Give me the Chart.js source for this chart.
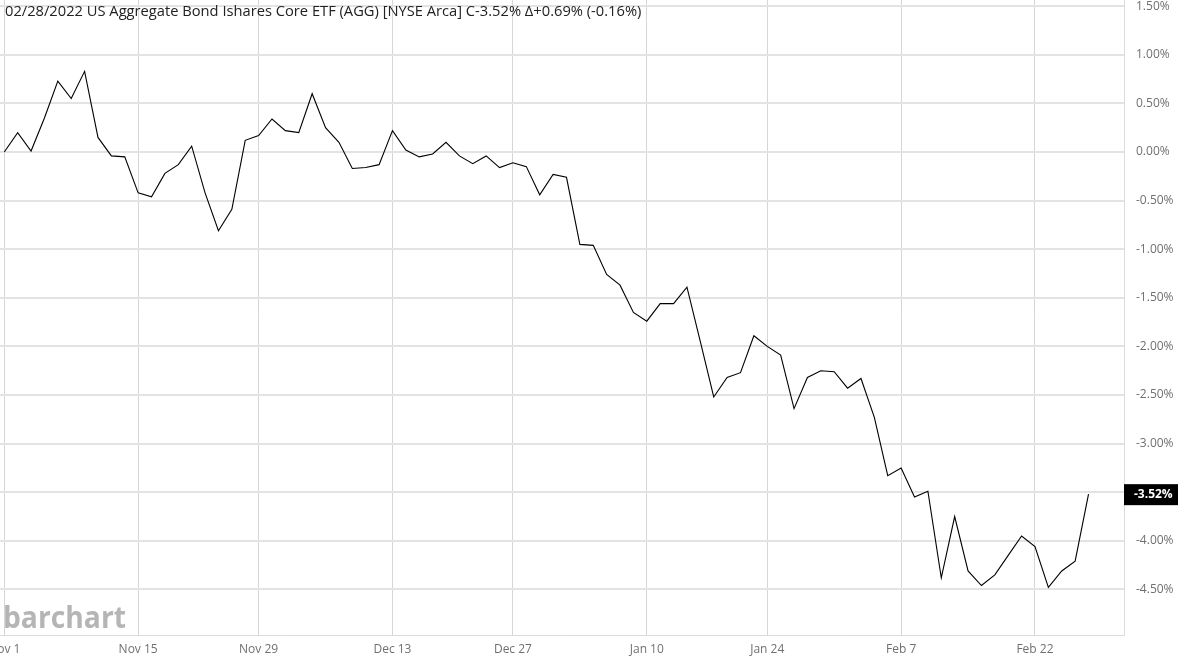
<!DOCTYPE html>
<html>
<head>
<meta charset="utf-8">
<script src="https://cdn.jsdelivr.net/npm/chart.js@4.4.1/dist/chart.umd.min.js"></script>
<style>
  html, body { margin: 0; padding: 0; background: #fff; }
  #wrap { width: 1188px; height: 661px; position: relative; }
</style>
</head>
<body>
<div id="wrap"><canvas id="aggChart"></canvas></div>
<script>
// =======================================
// DATA (trading days, % change since Nov 1)
// =======================================
const dates = [
  "Nov 1", "Nov 2", "Nov 3", "Nov 4", "Nov 5", "Nov 8", "Nov 9", "Nov 10", "Nov 11", "Nov 12",
  "Nov 15", "Nov 16", "Nov 17", "Nov 18", "Nov 19", "Nov 22", "Nov 23", "Nov 24", "Nov 26", "Nov 29",
  "Nov 30", "Dec 1", "Dec 2", "Dec 3", "Dec 6", "Dec 7", "Dec 8", "Dec 9", "Dec 10", "Dec 13",
  "Dec 14", "Dec 15", "Dec 16", "Dec 17", "Dec 20", "Dec 21", "Dec 22", "Dec 23", "Dec 27", "Dec 28",
  "Dec 29", "Dec 30", "Dec 31", "Jan 3", "Jan 4", "Jan 5", "Jan 6", "Jan 7", "Jan 10", "Jan 11",
  "Jan 12", "Jan 13", "Jan 14", "Jan 18", "Jan 19", "Jan 20", "Jan 21", "Jan 24", "Jan 25", "Jan 26",
  "Jan 27", "Jan 28", "Jan 31", "Feb 1", "Feb 2", "Feb 3", "Feb 4", "Feb 7", "Feb 8", "Feb 9",
  "Feb 10", "Feb 11", "Feb 14", "Feb 15", "Feb 16", "Feb 17", "Feb 18", "Feb 22", "Feb 23", "Feb 24",
  "Feb 25", "Feb 28"
];

const pctChange = [
  0.00, 0.20, 0.01, 0.35, 0.73, 0.55, 0.83, 0.15, -0.04, -0.05,
  -0.42, -0.46, -0.22, -0.13, 0.06, -0.42, -0.81, -0.59, 0.12, 0.17,
  0.34, 0.22, 0.20, 0.60, 0.25, 0.10, -0.17, -0.16, -0.13, 0.22,
  0.02, -0.05, -0.02, 0.10, -0.04, -0.12, -0.04, -0.16, -0.11, -0.15,
  -0.44, -0.23, -0.26, -0.95, -0.96, -1.26, -1.37, -1.65, -1.74, -1.56,
  -1.56, -1.39, -1.95, -2.52, -2.32, -2.27, -1.89, -2.00, -2.09, -2.64,
  -2.32, -2.25, -2.26, -2.43, -2.33, -2.73, -3.33, -3.25, -3.55, -3.49,
  -4.38, -3.75, -4.31, -4.46, -4.35, -4.15, -3.95, -4.06, -4.48, -4.31,
  -4.21, -3.52
];

const xTickLabels = ["Nov 1", "Nov 15", "Nov 29", "Dec 13", "Dec 27", "Jan 10", "Jan 24", "Feb 7", "Feb 22"];
const yTickValues = [1.5, 1.0, 0.5, 0.0, -0.5, -1.0, -1.5, -2.0, -2.5, -3.0, -3.5, -4.0, -4.5];

const titleText = "02/28/2022 US Aggregate Bond Ishares Core ETF (AGG) [NYSE Arca] C-3.52% \u0394+0.69% (-0.16%)";

// =======================================
// OVERLAY PLUGIN (title, watermark, last price tag)
// =======================================
const overlayPlugin = {
  id: "overlay",
  beforeDatasetsDraw(chart) {
    const ctx = chart.ctx;
    ctx.save();
    ctx.fillStyle = "#b5b5b5";
    ctx.font = "bold 31px 'Open Sans'";
    ctx.textBaseline = "alphabetic";
    ctx.textAlign = "left";
    ctx.fillText("barchart", 3, 628, 123);
    ctx.restore();
  },
  afterDraw(chart) {
    const ctx = chart.ctx;
    const yScale = chart.scales.y;
    const last = pctChange[pctChange.length - 1];
    const py = yScale.getPixelForValue(last);
    const left = chart.chartArea.right;

    ctx.save();
    // title
    ctx.fillStyle = "#222";
    ctx.font = "14.7px 'Open Sans'";
    ctx.textBaseline = "middle";
    ctx.textAlign = "left";
    ctx.fillText(titleText, 5, 12);

    // last value tag
    ctx.fillStyle = "#000";
    ctx.fillRect(left, py - 10, 54, 21);
    ctx.fillStyle = "#fff";
    ctx.font = "bold 12px 'Open Sans'";
    ctx.fillText(last.toFixed(2) + "%", left + 10, py + 0.5);
    ctx.restore();
  },
};

// =======================================
// CHART
// =======================================
function initChart() {
  const canvas = document.getElementById("aggChart");
  const xTickIdx = xTickLabels.map((l) => dates.indexOf(l));

  new Chart(canvas.getContext("2d"), {
    type: "line",
    data: {
      datasets: [
        {
          data: pctChange.map((v, i) => ({ x: i, y: v })),
          borderColor: "#000",
          borderWidth: 1.1,
          pointRadius: 0,
          tension: 0,
          fill: false,
        },
      ],
    },
    options: {
      responsive: true,
      maintainAspectRatio: false,
      animation: false,
      layout: { padding: 0, autoPadding: false },
      plugins: { legend: { display: false }, tooltip: { enabled: false } },
      scales: {
        x: {
          type: "linear",
          min: -0.32,
          max: 83.65,
          afterFit: (s) => {
            s.height = 26;
            s.paddingLeft = 0;
            s.paddingRight = 0;
          },
          afterBuildTicks: (s) => { s.ticks = xTickIdx.map((v) => ({ value: v })); },
          grid: { color: "#d6d6d6", lineWidth: 1, drawTicks: false },
          border: { color: "#dcdcdc", width: 1 },
          ticks: {
            color: "#707070",
            font: { family: "'Open Sans'", size: 12 },
            padding: 7,
            maxRotation: 0,
            autoSkip: false,
            callback: (v) => dates[v],
          },
        },
        y: {
          position: "right",
          min: -4.969,
          max: 1.564,
          afterFit: (s) => {
            s.width = 64;
            s.paddingTop = 0;
            s.paddingBottom = 0;
          },
          afterBuildTicks: (s) => { s.ticks = yTickValues.map((v) => ({ value: v })); },
          grid: { color: "#e3e3e3", lineWidth: 2, drawTicks: false },
          border: { color: "#dcdcdc", width: 1 },
          ticks: {
            color: "#707070",
            font: { family: "'Open Sans'", size: 12 },
            padding: 12,
            callback: (v) => v.toFixed(2) + "%",
          },
        },
      },
    },
    plugins: [overlayPlugin],
  });
}

document.addEventListener("DOMContentLoaded", initChart);
</script>
</body>
</html>
